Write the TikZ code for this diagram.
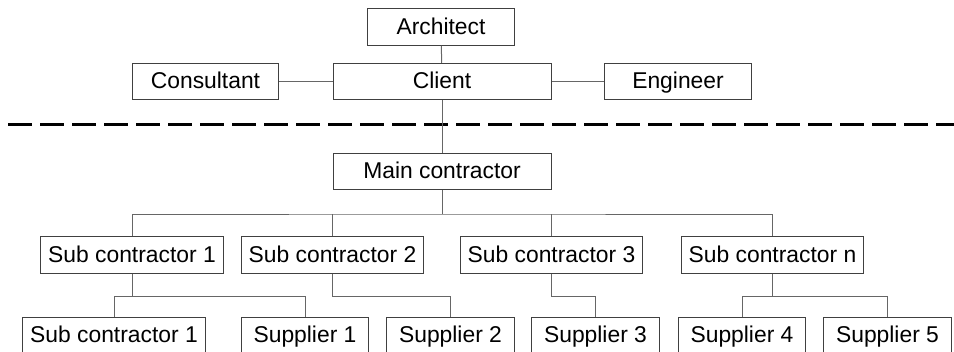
\documentclass[tikz,border=0pt]{standalone}
\usepackage{fontspec}
\setmainfont{Liberation Sans}
\usetikzlibrary{positioning}

\begin{document}
\begin{tikzpicture}[
    x=0.2mm, y=-0.2mm,
    party/.style={rectangle, draw=black!75, line width=0.2mm, minimum height=7.3mm, inner sep=0pt,
      text height=9.6pt, text depth=1.1pt, font=\fontsize{13}{15}\selectfont},
    wide/.style={party, minimum width=43.6mm},
    mid/.style={party, minimum width=36.5mm},
    small/.style={party, minimum width=29.3mm},
    supply/.style={party, minimum width=25.5mm},
    edge/.style={draw=black!60, line width=0.2mm},
    split/.style={draw=black, line width=0.6mm, dash pattern=on 4.8mm off 1.6mm}
  ]
    \useasboundingbox (0,0) rectangle (954,351);

    % Client side
    \node[small] (arch) at (441, 27) {Architect};
    \node[wide] (client) at (442, 81.5) {Client};
    \node[small] (cons) at (205.5, 81.5) {Consultant};
    \node[small] (eng) at (678, 81.5) {Engineer};

    % Contract line
    \coordinate (lineL) at (8, 124);
    \coordinate (lineR) at (954, 124);
    \draw[split] (lineL) -- (lineR);

    % Main contractor
    \node[wide] (main) at (442, 171.5) {Main contractor};

    % Sub contractors
    \node[mid] (sub1) at (132, 255) {Sub contractor 1};
    \node[mid] (sub2) at (332.5, 255) {Sub contractor 2};
    \node[mid] (sub3) at (551.5, 255) {Sub contractor 3};
    \node[mid] (subn) at (772.5, 255) {Sub contractor n};

    % Suppliers
    \node[mid] (bsub1) at (114, 335.5) {Sub contractor 1};
    \node[supply] (sup1) at (305, 335.5) {Supplier 1};
    \node[supply] (sup2) at (450.5, 335.5) {Supplier 2};
    \node[supply] (sup3) at (595.5, 335.5) {Supplier 3};
    \node[supply] (sup4) at (742, 335.5) {Supplier 4};
    \node[supply] (sup5) at (887.5, 335.5) {Supplier 5};

    % Links
    \draw[edge] (arch) -- (client);
    \draw[edge] (cons) -- (client);
    \draw[edge] (client) -- (eng);
    \draw[edge] (client) -- (main);

    \coordinate (busA) at (442, 214);
    \draw[edge] (main) -- (busA);
    \draw[edge] (sub1.north) |- (busA) -| (subn.north);
    \draw[edge] (sub2.north) -- (sub2.north |- busA);
    \draw[edge] (sub3.north) -- (sub3.north |- busA);

    \draw[edge] (sub1.south) -- ++(0,23) coordinate (j1);
    \draw[edge] (bsub1.north) |- (j1) -| (sup1.north);
    \draw[edge] (sub2.south) -- ++(0,23) coordinate (j2);
    \draw[edge] (j2) -| (sup2.north);
    \draw[edge] (sub3.south) -- ++(0,23) coordinate (j3);
    \draw[edge] (j3) -| (sup3.north);
    \draw[edge] (subn.south) -- ++(0,23) coordinate (jn);
    \draw[edge] (sup4.north) |- (jn) -| (sup5.north);
  \end{tikzpicture}
\end{document}
